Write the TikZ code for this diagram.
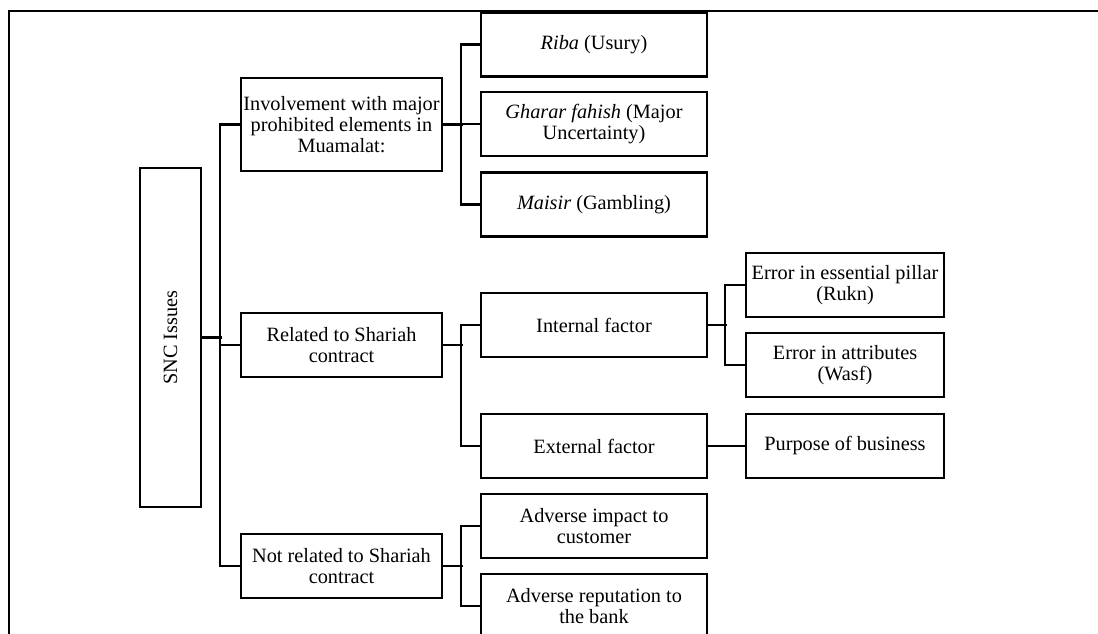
\documentclass[tikz,border=0pt]{standalone}
\usepackage{fontspec}
\setmainfont{Liberation Serif}
\usepackage{tikz}
\usetikzlibrary{positioning,calc}

\tikzset{
  box/.style={draw, line width=2.4pt, align=center, inner sep=1pt,
    font=\fontsize{20.3}{20.8}\selectfont, minimum height=64pt},
  lvone/.style={box, minimum width=201pt},
  lvtwo/.style={box, minimum width=226pt},
  lvthree/.style={box, minimum width=198pt},
  link/.style={line width=2.4pt},
}

\begin{document}
\begin{tikzpicture}[x=1pt,y=-1pt]
  \useasboundingbox (0,0) rectangle (1098,634);
  \clip (0,0) rectangle (1098,634);

  % outer frame
  \draw[line width=1.4pt] (9,640) -- (9,11) -- (1105,11);

  % root
  \node[box, minimum width=339pt, minimum height=61pt, rotate=90] (snc) at (170.5,337.5) {SNC Issues};

  % first level
  \node[lvone, minimum height=93pt] (inv) at (341.5,124.5) {Involvement with major\\prohibited elements in\\Muamalat:};
  \node[lvone] (rel) at (341.5,345) {Related to Shariah\\contract};
  \node[lvone] (notrel) at (341.5,566) {Not related to Shariah\\contract};

  % second level
  \node[lvtwo] (riba) at (594,44.5) {\textit{Riba} (Usury)};
  \node[lvtwo] (gharar) at (594,124) {\textit{Gharar fahish} (Major\\Uncertainty)};
  \node[lvtwo] (maisir) at (594,204.5) {\textit{Maisir} (Gambling)};
  \node[lvtwo] (internal) at (594,325) {Internal factor};
  \node[lvtwo] (external) at (594,446) {External factor};
  \node[lvtwo] (impact) at (594,526) {Adverse impact to\\customer};
  \node[lvtwo] (reput) at (594,606) {Adverse reputation to\\the bank};

  % third level
  \node[lvthree] (rukn) at (845,285) {Error in essential pillar\\(Rukn)};
  \node[lvthree] (wasf) at (845,365) {Error in attributes\\(Wasf)};
  \node[lvthree] (purpose) at (845,446) {Purpose of business};

  % connectors
  \draw[link] (snc.south) -- ++(20,0);
  \draw[link] (inv.west) -- ++(-20,0) |- (notrel.west);
  \draw[link] (rel.west) -- ++(-20,0);

  \draw[link] (inv.east) -- ++(20,0);
  \draw[link] (riba.west) -- ++(-19,0) |- (maisir.west);
  \draw[link] (gharar.west) -- ++(-19,0);

  \draw[link] (rel.east) -- ++(20,0);
  \draw[link] (internal.west) -- ++(-19,0) |- (external.west);

  \draw[link] (notrel.east) -- ++(20,0);
  \draw[link] (impact.west) -- ++(-19,0) |- (reput.west);

  \draw[link] (internal.east) -- ++(19,0);
  \draw[link] (rukn.west) -- ++(-20,0) |- (wasf.west);
  \draw[link] (external) -- (purpose);
\end{tikzpicture}
\end{document}
